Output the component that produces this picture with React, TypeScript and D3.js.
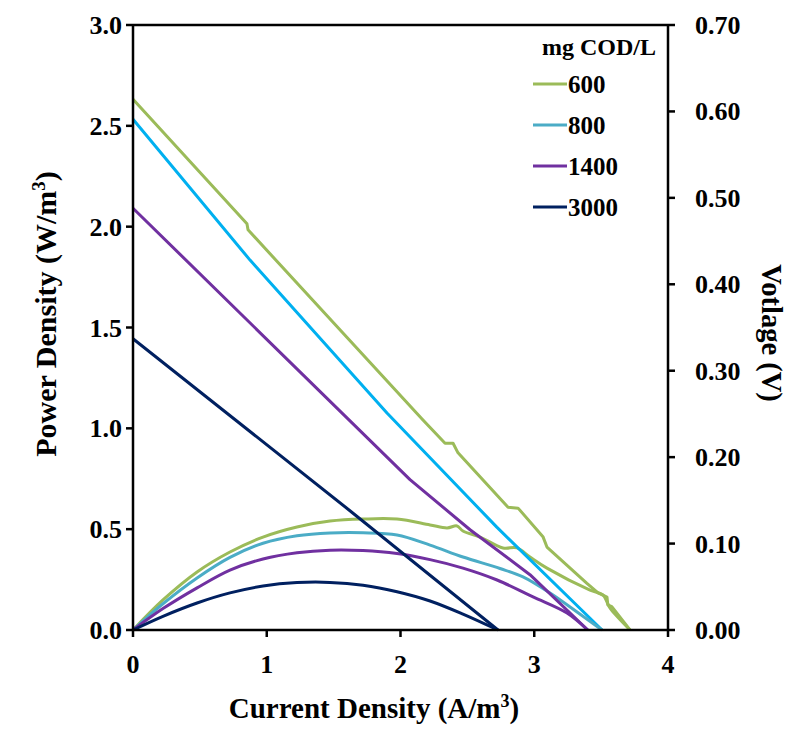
import React from 'react';
import * as d3 from 'd3';

// legend groups (mg COD/L)
const groups = ['600', '800', '1400', '3000'];
const voltColors = ['#9BBB59', '#00B0F0', '#7030A0', '#002060'];
const powerColors = ['#9BBB59', '#4BACC6', '#7030A0', '#002060'];

// polarization curves: current density (A/m3) vs voltage (V)
const v600I = [0, 0.852, 0.86, 2.168, 2.333, 2.393, 2.43, 2.804, 2.879, 3.065, 3.095, 3.394, 3.477, 3.544, 3.55, 3.58, 3.716];
const v600V = [0.614, 0.47, 0.463, 0.243, 0.216, 0.216, 0.205, 0.142, 0.141, 0.108, 0.096, 0.054, 0.043, 0.038, 0.029, 0.027, 0];
const v800I = [0, 0.875, 1.899, 2.72, 3.507];
const v800V = [0.591, 0.428, 0.251, 0.119, 0];
const v1400I = [0, 2.071, 2.52, 2.968, 3.4];
const v1400V = [0.488, 0.174, 0.116, 0.064, 0];
const v3000I = [0, 1.622, 2.729];
const v3000V = [0.337, 0.138, 0];

// power curves: current density (A/m3) vs power density (W/m3)
const p600I = [0, 0.224, 0.479, 0.725, 0.972, 1.226, 1.473, 1.72, 1.974, 2.221, 2.348, 2.422, 2.467, 2.594, 2.766, 2.871, 2.968, 3.095, 3.417, 3.514, 3.544, 3.566, 3.716];
const p600P = [0, 0.149, 0.288, 0.387, 0.461, 0.511, 0.54, 0.55, 0.55, 0.521, 0.506, 0.516, 0.491, 0.461, 0.407, 0.407, 0.362, 0.307, 0.198, 0.174, 0.139, 0.109, 0];
const p800I = [0, 0.224, 0.479, 0.725, 0.972, 1.226, 1.473, 1.72, 1.974, 2.221, 2.467, 2.744, 2.916, 3.118, 3.32, 3.507];
const p800P = [0, 0.13, 0.258, 0.36, 0.43, 0.467, 0.481, 0.482, 0.471, 0.421, 0.362, 0.305, 0.263, 0.183, 0.089, 0];
const p1400I = [0, 0.224, 0.479, 0.725, 0.972, 1.226, 1.473, 1.72, 1.974, 2.221, 2.467, 2.722, 2.991, 3.245, 3.4];
const p1400P = [0, 0.106, 0.209, 0.297, 0.352, 0.383, 0.396, 0.394, 0.379, 0.349, 0.307, 0.248, 0.164, 0.084, 0];
const p3000I = [0, 0.224, 0.479, 0.725, 0.972, 1.226, 1.473, 1.72, 1.974, 2.221, 2.467, 2.729];
const p3000P = [0, 0.068, 0.134, 0.184, 0.218, 0.235, 0.236, 0.222, 0.19, 0.144, 0.079, 0];

const xTicks = [0, 1, 2, 3, 4];
const leftTicks = [0, 0.5, 1, 1.5, 2, 2.5, 3];
const rightTicks = [0, 0.1, 0.2, 0.3, 0.4, 0.5, 0.6, 0.7];

const voltI = [v600I, v800I, v1400I, v3000I];
const voltV = [v600V, v800V, v1400V, v3000V];
const powI = [p600I, p800I, p1400I, p3000I];
const powP = [p600P, p800P, p1400P, p3000P];

const W = 795;
const H = 735;
const left = 133, right = 668, top = 25, bottom = 630;
const font = '"Liberation Serif", "Times New Roman", serif';

export default function App() {
  const x = d3.scaleLinear().domain([0, 4]).range([left, right]);
  const yP = d3.scaleLinear().domain([0, 3]).range([bottom, top]);
  const yV = d3.scaleLinear().domain([0, 0.7]).range([bottom, top]);

  const voltLine = d3.line<[number, number]>()
    .x(d => x(d[0]))
    .y(d => yV(d[1]));
  const powLine = d3.line<[number, number]>()
    .x(d => x(d[0]))
    .y(d => yP(d[1]))
    .curve(d3.curveCatmullRom.alpha(0.5));

  const tick = 7;

  return (
    <svg width={W} height={H} style={{ position: 'absolute', left: 0, top: 0, background: '#fff' }}
      fontFamily={font} fontWeight="bold">
      {/* series */}
      <g fill="none" strokeWidth={3} strokeLinejoin="round">
        {groups.map((g, i) => (
          <g key={g}>
            <path d={voltLine(voltI[i].map((v, k) => [v, voltV[i][k]]) as [number, number][]) || ''} stroke={voltColors[i]} />
            <path d={powLine(powI[i].map((v, k) => [v, powP[i][k]]) as [number, number][]) || ''} stroke={powerColors[i]} />
          </g>
        ))}
      </g>

      {/* frame */}
      <g stroke="#000" strokeWidth={2.5} fill="none">
        <line x1={left} x2={left} y1={top} y2={bottom} />
        <line x1={right} x2={right} y1={top} y2={bottom} />
        <line x1={left} x2={right} y1={bottom} y2={bottom} />
        <line x1={left} x2={right} y1={top} y2={top} />
      </g>

      {/* bottom axis */}
      <g>
        {xTicks.map(t => (
          <g key={t}>
            <line x1={x(t)} x2={x(t)} y1={bottom} y2={bottom + tick} stroke="#000" strokeWidth={2.5} />
            <text x={x(t)} y={bottom + 43} textAnchor="middle" fontSize={26}>{d3.format('d')(t)}</text>
          </g>
        ))}
        <text x={374} y={718} textAnchor="middle" fontSize={29}>
          Current Density (A/m<tspan dy={-11} fontSize={18}>3</tspan><tspan dy={11}>)</tspan>
        </text>
      </g>

      {/* left axis */}
      <g>
        {leftTicks.map(t => (
          <g key={t}>
            <line x1={left - tick} x2={left} y1={yP(t)} y2={yP(t)} stroke="#000" strokeWidth={2.5} />
            <text x={left - 11} y={yP(t) + 9} textAnchor="end" fontSize={26}>{d3.format('.1f')(t)}</text>
          </g>
        ))}
        <text transform={`translate(56,314) rotate(-90)`} textAnchor="middle" fontSize={30}>
          Power Density (W/m<tspan dy={-11} fontSize={19}>3</tspan><tspan dy={11}>)</tspan>
        </text>
      </g>

      {/* right axis */}
      <g>
        {rightTicks.map(t => (
          <g key={t}>
            <line x1={right} x2={right + tick} y1={yV(t)} y2={yV(t)} stroke="#000" strokeWidth={2.5} />
            <text x={695} y={yV(t) + 9} textAnchor="start" fontSize={26}>{d3.format('.2f')(t)}</text>
          </g>
        ))}
        <text transform={`translate(762,333) rotate(90)`} textAnchor="middle" fontSize={28.5}>Votlage (V)</text>
      </g>

      {/* legend */}
      <g>
        <text x={542} y={55} fontSize={24}>mg COD/L</text>
        {groups.map((g, i) => {
          const ly = 84 + i * 41;
          return (
            <g key={g}>
              <line x1={533} x2={567} y1={ly} y2={ly} stroke={powerColors[i]} strokeWidth={3} />
              <text x={568} y={ly + 9} fontSize={25}>{g}</text>
            </g>
          );
        })}
      </g>
    </svg>
  );
}
